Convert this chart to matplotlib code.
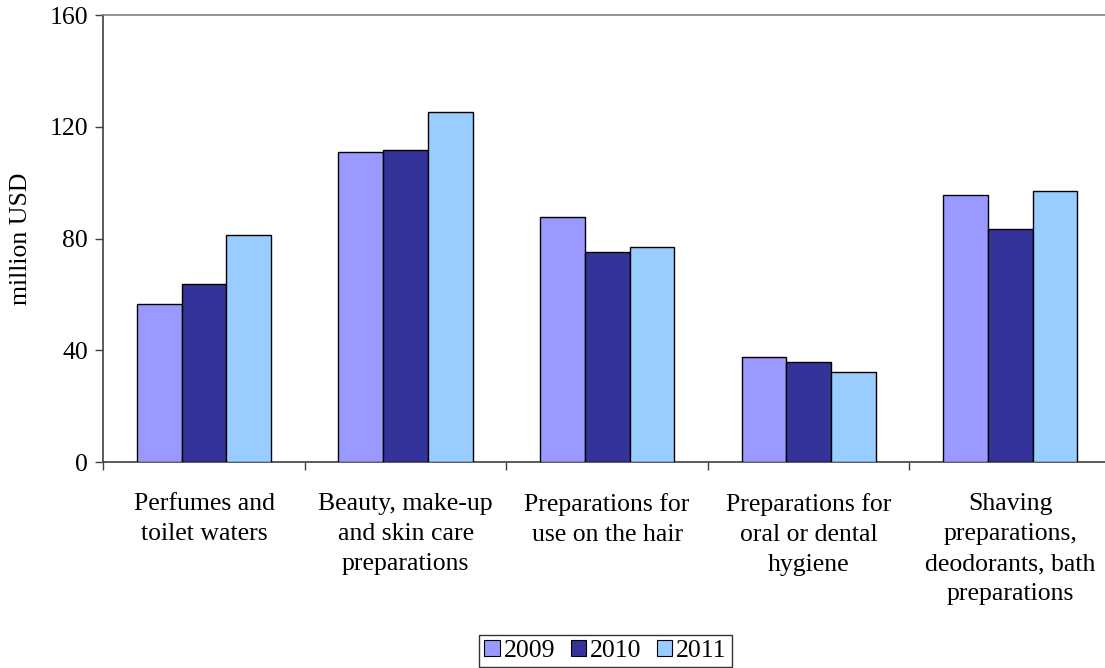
import matplotlib
matplotlib.use("Agg")
import matplotlib.pyplot as plt
import numpy as np
from matplotlib.ticker import FixedLocator

categories = ["Perfumes and\ntoilet waters",
              "Beauty, make-up\nand skin care\npreparations",
              "Preparations for\nuse on the hair",
              "Preparations for\noral or dental\nhygiene",
              "Shaving\npreparations,\ndeodorants, bath\npreparations"]
years = ["2009", "2010", "2011"]
v2009 = [56.5, 110.9, 87.6, 37.8, 95.6]
v2010 = [63.8, 111.6, 75.1, 36.0, 83.5]
v2011 = [81.4, 125.3, 76.9, 32.2, 97.0]
yticks = [0, 40, 80, 120, 160]

colors = ["#9999FF", "#333399", "#99CCFF"]
series = [v2009, v2010, v2011]

plt.rcParams['font.family'] = ['Liberation Serif', 'DejaVu Serif']

W, H = 1105, 668
fig = plt.figure(figsize=(W / 100, H / 100), dpi=100)
left, right, top, bottom = 103.3, 1111, 15, 462.3
ax = fig.add_axes([left / W, (H - bottom) / H, (right - left) / W, (bottom - top) / H])

x = np.arange(len(categories))
bw = 1 / 4.5
for i, (vals, c, lab) in enumerate(zip(series, colors, years)):
    ax.bar(x + (i - 1) * bw, vals, width=bw, color=c, edgecolor="black",
           linewidth=1.0, label=lab, zorder=3)

FS = 18.5
ax.set_xlim(-0.5, len(categories) - 0.5)
ax.set_ylim(0, 160)
ax.set_yticks(yticks)
ax.set_yticklabels([str(t) for t in yticks], fontsize=FS)
ax.set_xticks(x)
ax.set_xticklabels(categories, fontsize=FS, linespacing=1.48)
ax.xaxis.set_minor_locator(FixedLocator(np.arange(-0.5, len(categories), 1.0)))
ax.tick_params(axis='x', which='major', length=0, pad=22)
ax.tick_params(axis='x', which='minor', length=6, width=1, color="#404040", direction='out')
ax.tick_params(axis='y', length=6, width=1, color="#404040", direction='out', pad=5)

for s in ["top", "right"]:
    ax.spines[s].set_color("#808080")
    ax.spines[s].set_linewidth(1.2)
for s in ["left", "bottom"]:
    ax.spines[s].set_color("#404040")
    ax.spines[s].set_linewidth(1.2)

ax.set_ylabel("million USD", fontsize=FS)
ax.yaxis.set_label_coords(-(left - 32) / (right - left), 0.5)

leg = ax.legend(loc="center", bbox_to_anchor=(605.5 / W, (H - 651) / H),
                bbox_transform=fig.transFigure, ncol=3, fontsize=FS,
                frameon=True, fancybox=False, handlelength=0.6, handleheight=0.6,
                handletextpad=0.15, columnspacing=0.6, borderpad=0.2,
                borderaxespad=0)
leg.get_frame().set_edgecolor("black")
leg.get_frame().set_linewidth(1.0)
for p in leg.get_patches():
    p.set_linewidth(0.8)

fig.savefig("out.png", dpi=100)
